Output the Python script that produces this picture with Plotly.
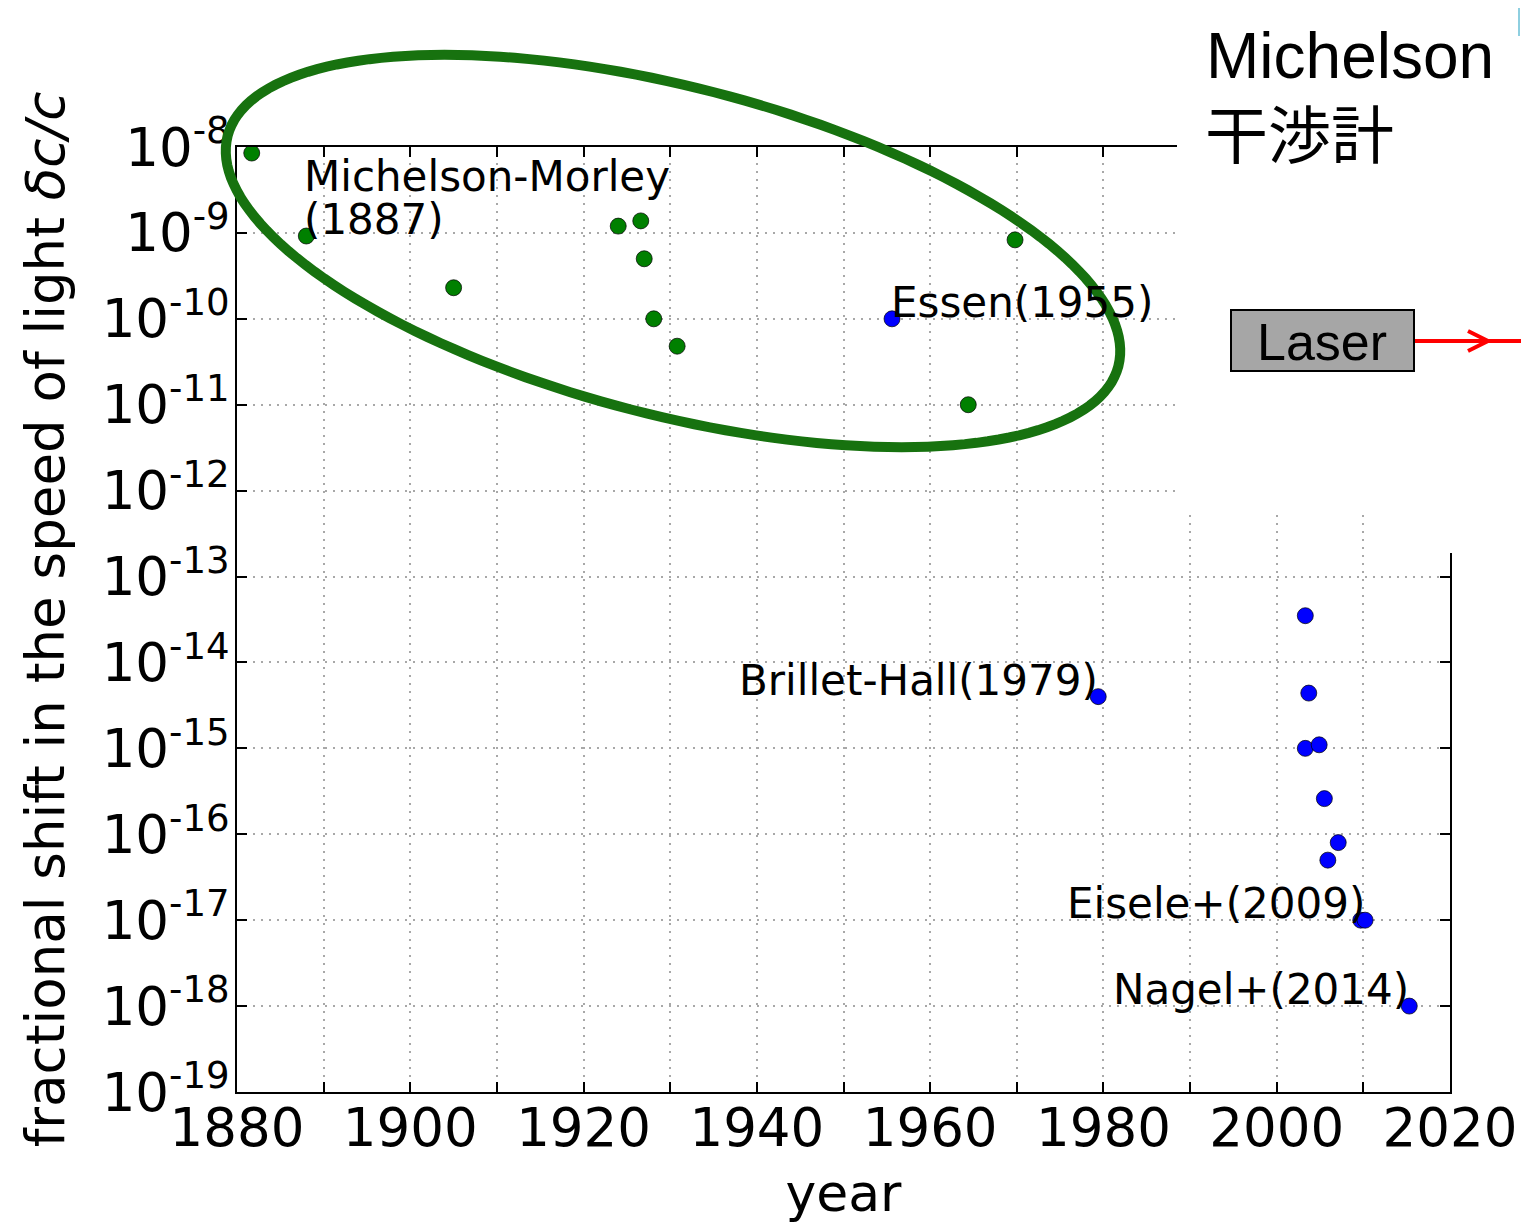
import numpy as np
import plotly.graph_objects as go

# ---- data ----
mich_years = [1881.7, 1888, 1905, 1924, 1926.6, 1927, 1928.1, 1930.8, 1964.4, 1969.8]
mich_vals = [8.5e-9, 9.2e-10, 2.3e-10, 1.2e-9, 1.38e-9, 5.0e-10, 1.0e-10, 4.8e-11, 1.0e-11, 8.3e-10]

laser_years = [1955.6, 1979.4, 2003.3, 2003.7, 2003.3, 2004.9, 2005.5, 2007.1, 2005.9, 2009.7, 2010.2, 2015.3]
laser_vals = [1.0e-10, 4.0e-15, 3.5e-14, 4.4e-15, 1.0e-15, 1.1e-15, 2.6e-16, 8.0e-17, 5.0e-17, 1.0e-17, 1.0e-17, 1.0e-18]

labels = ["Essen(1955)", "Brillet-Hall(1979)", "Eisele+(2009)", "Nagel+(2014)"]
label_years = [1955.6, 1979.4, 2010.2, 2015.3]
label_vals = [1.0e-10, 4.0e-15, 1.0e-17, 1.0e-18]
label_side = ["left", "right", "right", "right"]

mm_year, mm_val = 1888, 9.2e-10

x_ticks = list(range(1880, 2021, 10))
x_ticktext = [str(v) if v % 20 == 0 else "" for v in x_ticks]
y_exps = list(range(-19, -7))
y_ticks = [10.0 ** e for e in y_exps]
y_ticktext = ["10<sup>%d</sup>" % e for e in y_exps]

# ---- layout geometry (pixels) ----
W, H = 1521, 1223
L, R, T, B = 237, 71, 147, 131
PW, PH = W - L - R, H - T - B


def px(x):
    return (x - L) / PW


def py(y):
    return (H - B - y) / PH


FONT = "DejaVu Sans"

fig = go.Figure()
fig.add_trace(go.Scatter(x=mich_years, y=mich_vals, mode="markers",
                         marker=dict(size=16, color="#008000",
                                     line=dict(width=1, color="rgba(0,0,0,0.7)")),
                         showlegend=False))
fig.add_trace(go.Scatter(x=laser_years, y=laser_vals, mode="markers",
                         marker=dict(size=16, color="#0000ff",
                                     line=dict(width=1, color="rgba(0,0,0,0.7)")),
                         showlegend=False))

ann = []
for t, xv, yv, side in zip(labels, label_years, label_vals, label_side):
    ann.append(dict(x=xv, y=np.log10(yv), xref="x", yref="y", text=t, showarrow=False,
                    xanchor=side, yanchor="bottom", yshift=-10,
                    xshift=-3 if side == "left" else 2,
                    font=dict(family=FONT, size=42, color="black")))
ann.append(dict(x=mm_year, y=np.log10(mm_val), xref="x", yref="y", text="(1887)",
                showarrow=False, xanchor="left", yanchor="bottom", yshift=-10, xshift=-4,
                font=dict(family=FONT, size=42, color="black")))
ann.append(dict(x=mm_year, y=np.log10(mm_val), xref="x", yref="y", text="Michelson-Morley",
                showarrow=False, xanchor="left", yanchor="bottom", yshift=33, xshift=-4,
                font=dict(family=FONT, size=42, color="black")))

shapes = []
# white cover top-right
shapes.append(dict(type="rect", xref="paper", yref="paper", x0=px(1177), x1=px(W + 5),
                   y0=py(513), y1=py(-5), fillcolor="white", line=dict(width=0), layer="above"))
shapes.append(dict(type="rect", xref="paper", yref="paper", x0=px(1440), x1=px(W + 5),
                   y0=py(553), y1=py(500), fillcolor="white", line=dict(width=0), layer="above"))

# green ellipse
cx, cy, a, b, th = 673, 251, 460, 164, np.deg2rad(14.5)
tt = np.linspace(0, 2 * np.pi, 181)
ex = cx + a * np.cos(tt) * np.cos(th) - b * np.sin(tt) * np.sin(th)
ey = cy + a * np.cos(tt) * np.sin(th) + b * np.sin(tt) * np.cos(th)
path = "M " + " L ".join("%.5f,%.5f" % (px(u), py(v)) for u, v in zip(ex, ey)) + " Z"
shapes.append(dict(type="path", xref="paper", yref="paper", path=path,
                   line=dict(color="#17720f", width=10), layer="above"))

# Laser box
shapes.append(dict(type="rect", xref="paper", yref="paper", x0=px(1231), x1=px(1414),
                   y0=py(371), y1=py(310), fillcolor="#a6a6a6",
                   line=dict(color="black", width=2), layer="above"))
shapes.append(dict(type="line", xref="paper", yref="paper", x0=px(1415), x1=px(W),
                   y0=py(341), y1=py(341), line=dict(color="red", width=4), layer="above"))
shapes.append(dict(type="path", xref="paper", yref="paper",
                   path="M %.5f,%.5f L %.5f,%.5f L %.5f,%.5f" % (px(1468), py(331), px(1488), py(341),
                                                                 px(1468), py(351)),
                   line=dict(color="red", width=4), layer="above"))
shapes.append(dict(type="line", xref="paper", yref="paper", x0=px(1519), x1=px(1519),
                   y0=py(36), y1=py(8), line=dict(color="#8ecfe0", width=2), layer="above"))

ann.append(dict(x=px(1204), y=py(56), xref="paper", yref="paper", text="Michelson",
                showarrow=False, xanchor="left", yanchor="middle",
                font=dict(family="Liberation Sans", size=64, color="black")))
ann.append(dict(x=px(1203), y=py(131), xref="paper", yref="paper", text="干渉計",
                showarrow=False, xanchor="left", yanchor="middle",
                font=dict(family="Noto Sans CJK JP", size=63, color="black")))
ann.append(dict(x=px(1322), y=py(342), xref="paper", yref="paper", text="Laser",
                showarrow=False, xanchor="center", yanchor="middle",
                font=dict(family="Liberation Sans", size=52, color="black")))

axis_common = dict(showline=True, linecolor="black", linewidth=1.5, mirror="ticks",
                   ticks="inside", ticklen=10, tickwidth=1.5, tickcolor="black",
                   showgrid=True, gridcolor="#a8a8a8", gridwidth=1.5, griddash="2px,6px",
                   zeroline=False, automargin=False,
                   tickfont=dict(family=FONT, size=53, color="black"))

fig.update_layout(
    width=W, height=H,
    margin=dict(l=L, r=R, t=T, b=B, pad=0),
    paper_bgcolor="white", plot_bgcolor="white",
    xaxis=dict(range=[1880, 2020], tickmode="array", tickvals=x_ticks, ticktext=x_ticktext,
               ticklabelstandoff=-11,
               title=dict(text="year", font=dict(family=FONT, size=52, color="black"), standoff=20),
               **axis_common),
    yaxis=dict(type="log", range=[-19, -8], tickmode="array", tickvals=y_ticks, ticktext=y_ticktext,
               ticklabelstandoff=-5,
               title=dict(text="fractional shift in the speed of light <i>δc/c</i>",
                          font=dict(family=FONT, size=53, color="black"), standoff=20),
               **axis_common),
    annotations=ann,
    shapes=shapes,
)

fig.write_html("out.html", config={"displayModeBar": False},
               post_script="document.body.style.margin='0';")
